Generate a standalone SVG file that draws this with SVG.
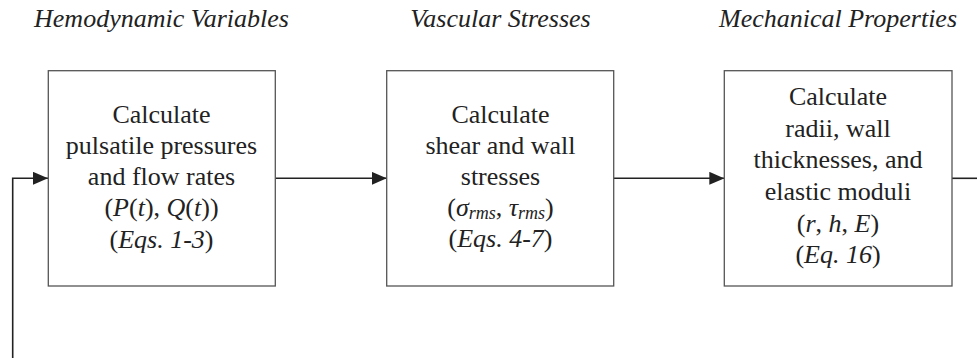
<svg xmlns="http://www.w3.org/2000/svg" width="977" height="358" viewBox="0 0 977 358">
<style>
.bg{fill:#ffffff}
.box{fill:#ffffff;stroke:#555555;stroke-width:1.3}
.t{font-family:"Liberation Serif","Times New Roman",serif;font-size:26px;fill:#222222;text-anchor:middle}
.h{font-family:"Liberation Serif","Times New Roman",serif;font-size:26px;font-style:italic;fill:#222222;text-anchor:middle}
.i{font-style:italic}
.sub{font-style:italic;font-size:18px}
.c{fill:none;stroke:#222222;stroke-width:1.6}
</style>
<defs>
<marker id="ah" markerWidth="15" markerHeight="13" refX="15" refY="6.5" orient="auto" markerUnits="userSpaceOnUse">
<path d="M0,0 L15,6.5 L0,13 Z" fill="#222222"/>
</marker>
</defs>
<rect class="bg" x="0" y="0" width="977" height="358"/>
<g id="headers">
<text class="h" x="161.5" y="27">Hemodynamic Variables</text>
<text class="h" x="500.5" y="27">Vascular Stresses</text>
<text class="h" x="838" y="27">Mechanical Properties</text>
</g>
<g id="connectors">
<path class="c" d="M12.7,358 L12.7,178.3 L48,178.3" marker-end="url(#ah)"/>
<path class="c" d="M275.3,178.3 L386.7,178.3" marker-end="url(#ah)"/>
<path class="c" d="M613.7,178.3 L724.3,178.3" marker-end="url(#ah)"/>
<path class="c" d="M952,178.3 L977,178.3"/>
</g>
<g id="node1">
<rect class="box" x="48.3" y="70.7" width="227" height="215.3"/>
<text class="t" x="161.5" y="122.5">Calculate</text>
<text class="t" x="161.5" y="154">pulsatile pressures</text>
<text class="t" x="161.5" y="185">and flow rates</text>
<text class="t" x="161.5" y="216">(<tspan class="i">P</tspan>(<tspan class="i">t</tspan>), <tspan class="i">Q</tspan>(<tspan class="i">t</tspan>))</text>
<text class="t" x="161.5" y="247.5">(<tspan class="i">Eqs. 1-3</tspan>)</text>
</g>
<g id="node2">
<rect class="box" x="386.7" y="70.7" width="227" height="215.3"/>
<text class="t" x="500.5" y="122.5">Calculate</text>
<text class="t" x="500.5" y="154">shear and wall</text>
<text class="t" x="500.5" y="185">stresses</text>
<text class="t" x="500.5" y="215.5">(<tspan class="i">σ</tspan><tspan class="sub" dy="3">rms</tspan><tspan dy="-3">, </tspan><tspan class="i">τ</tspan><tspan class="sub" dy="3">rms</tspan><tspan dy="-3">)</tspan></text>
<text class="t" x="500.5" y="247">(<tspan class="i">Eqs. 4-7</tspan>)</text>
</g>
<g id="node3">
<rect class="box" x="724.3" y="70.7" width="227.7" height="215.3"/>
<text class="t" x="838" y="105">Calculate</text>
<text class="t" x="838" y="136.7">radii, wall</text>
<text class="t" x="838" y="168.3">thicknesses, and</text>
<text class="t" x="838" y="200">elastic moduli</text>
<text class="t" x="838" y="231.6">(<tspan class="i">r</tspan>, <tspan class="i">h</tspan>, <tspan class="i">E</tspan>)</text>
<text class="t" x="838" y="263.3">(<tspan class="i">Eq. 16</tspan>)</text>
</g>
</svg>
